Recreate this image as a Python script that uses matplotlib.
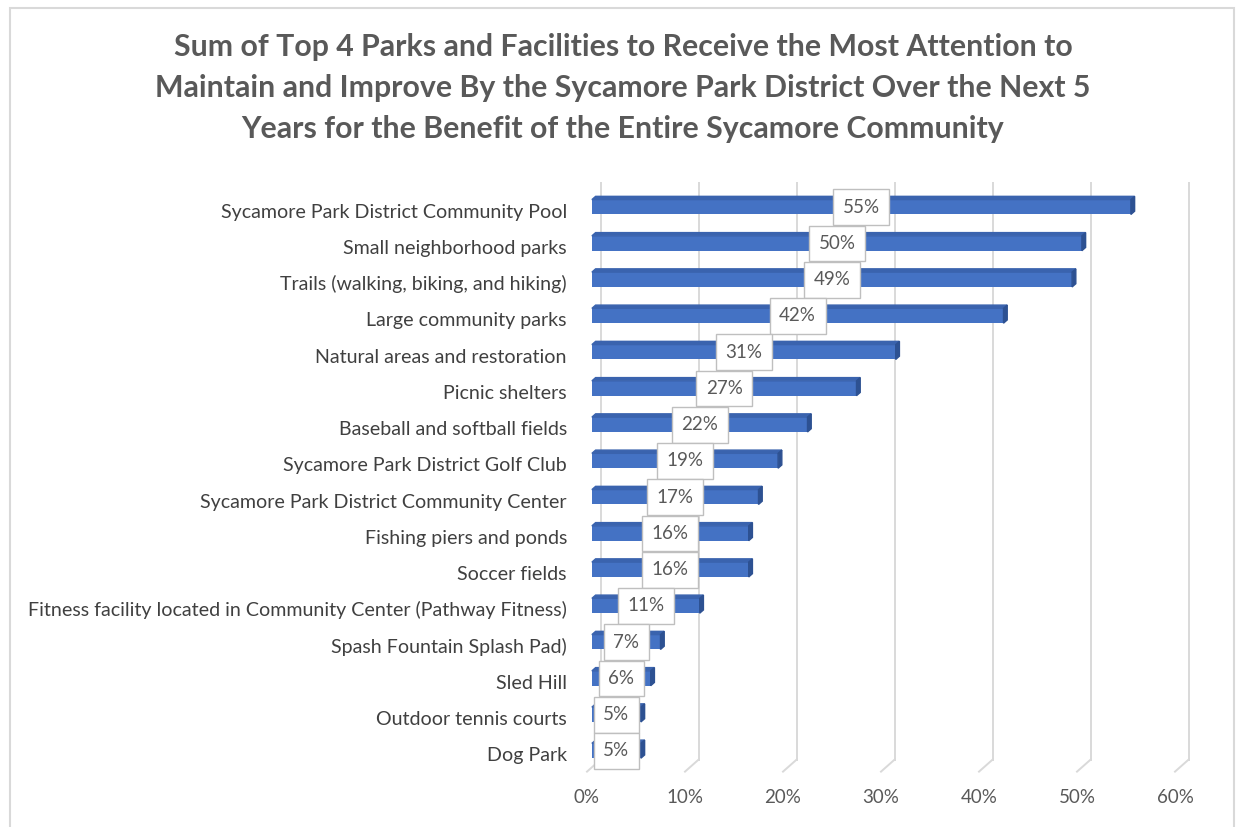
import matplotlib
matplotlib.use("Agg")
import matplotlib.pyplot as plt
from matplotlib.patches import Polygon, Rectangle

plt.rcParams['font.family'] = ['Lato', 'DejaVu Sans']

categories = [
    "Sycamore Park District Community Pool",
    "Small neighborhood parks",
    "Trails (walking, biking, and hiking)",
    "Large community parks",
    "Natural areas and restoration",
    "Picnic shelters",
    "Baseball and softball fields",
    "Sycamore Park District Golf Club",
    "Sycamore Park District Community Center",
    "Fishing piers and ponds",
    "Soccer fields",
    "Fitness facility located in Community Center (Pathway Fitness)",
    "Spash Fountain Splash Pad)",
    "Sled Hill",
    "Outdoor tennis courts",
    "Dog Park",
]
values = [55, 50, 49, 42, 31, 27, 22, 19, 17, 16, 16, 11, 7, 6, 5, 5]
xticks = [0, 10, 20, 30, 40, 50, 60]
xtick_labels = ["0%", "10%", "20%", "30%", "40%", "50%", "60%"]
title = ("Sum of Top 4 Parks and Facilities to Receive the Most Attention to\n"
         "Maintain and Improve By the Sycamore Park District Over the Next 5\n"
         "Years for the Benefit of the Entire Sycamore Community")

W, H = 1238, 827
fig = plt.figure(figsize=(W / 100, H / 100), dpi=100)
fig.patch.set_facecolor("white")

# outer chart border
fig.patches.append(Rectangle((10 / W, -0.05), 1224 / W, 1 - 8 / H + 0.05,
                             transform=fig.transFigure, fill=False,
                             edgecolor="#D9D9D9", linewidth=1.5))

ax = fig.add_axes([587 / W, 1 - 768 / H, 588 / W, (768 - 188) / H])
ax.set_xlim(0, 60)
ax.set_ylim(len(categories) - 0.5, -0.5)
for s in ax.spines.values():
    s.set_visible(False)

# depth of the 3D back wall in data units
bdx, bdy = 1.38, 0.33
grid_col = "#D9D9D9"
for t in xticks:
    ax.plot([t + bdx, t + bdx], [-0.634, 15.27], color=grid_col, lw=1.4,
            clip_on=False, zorder=0)
    ax.plot([t + bdx, t], [15.27, 15.6], color=grid_col, lw=1.4,
            clip_on=False, zorder=0)

rows = list(range(len(categories)))
off = 0.5          # bar front face offset from front plane
top_y = -0.18
bot_y = 0.23
dx, dy = 0.38, 0.09
front = "#4472C4"
topc = "#3A63AE"
side = "#2D5192"
ax.barh([r + (top_y + bot_y) / 2 for r in rows], values, left=off,
        height=bot_y - top_y, color=front, zorder=2)
for r, v in zip(rows, values):
    y0, y1 = r + top_y, r + bot_y
    ax.add_patch(Polygon([(off, y0), (off + v, y0), (off + v + dx, y0 - dy),
                          (off + dx, y0 - dy)], closed=True, color=topc, zorder=2))
    ax.add_patch(Polygon([(off + v, y0), (off + v, y1), (off + v + dx, y1 - dy),
                          (off + v + dx, y0 - dy)], closed=True, color=side, zorder=2))
    ax.text(off + v / 2, r + 0.03, f"{v}%", ha="center", va="center",
            fontsize=13.5, color="#595959", zorder=5,
            bbox=dict(boxstyle="square,pad=0.5", facecolor="white",
                      edgecolor="#BFBFBF", linewidth=1))
    ax.text(-2.05, r + 0.32, categories[r], ha="right", va="baseline",
            fontsize=14.1, color="#404040", clip_on=False)

ax.set_yticks([])
ax.set_xticks(xticks)
ax.set_xticklabels(xtick_labels, fontsize=13.5, color="#595959")
ax.tick_params(axis="x", length=0, pad=15)

fig.text(623 / W, 1 - 88 / H, title, ha="center", va="center",
         fontsize=21.8, fontweight="bold", color="#595959", linespacing=1.57)

fig.savefig("out.png", dpi=100, facecolor="white")
